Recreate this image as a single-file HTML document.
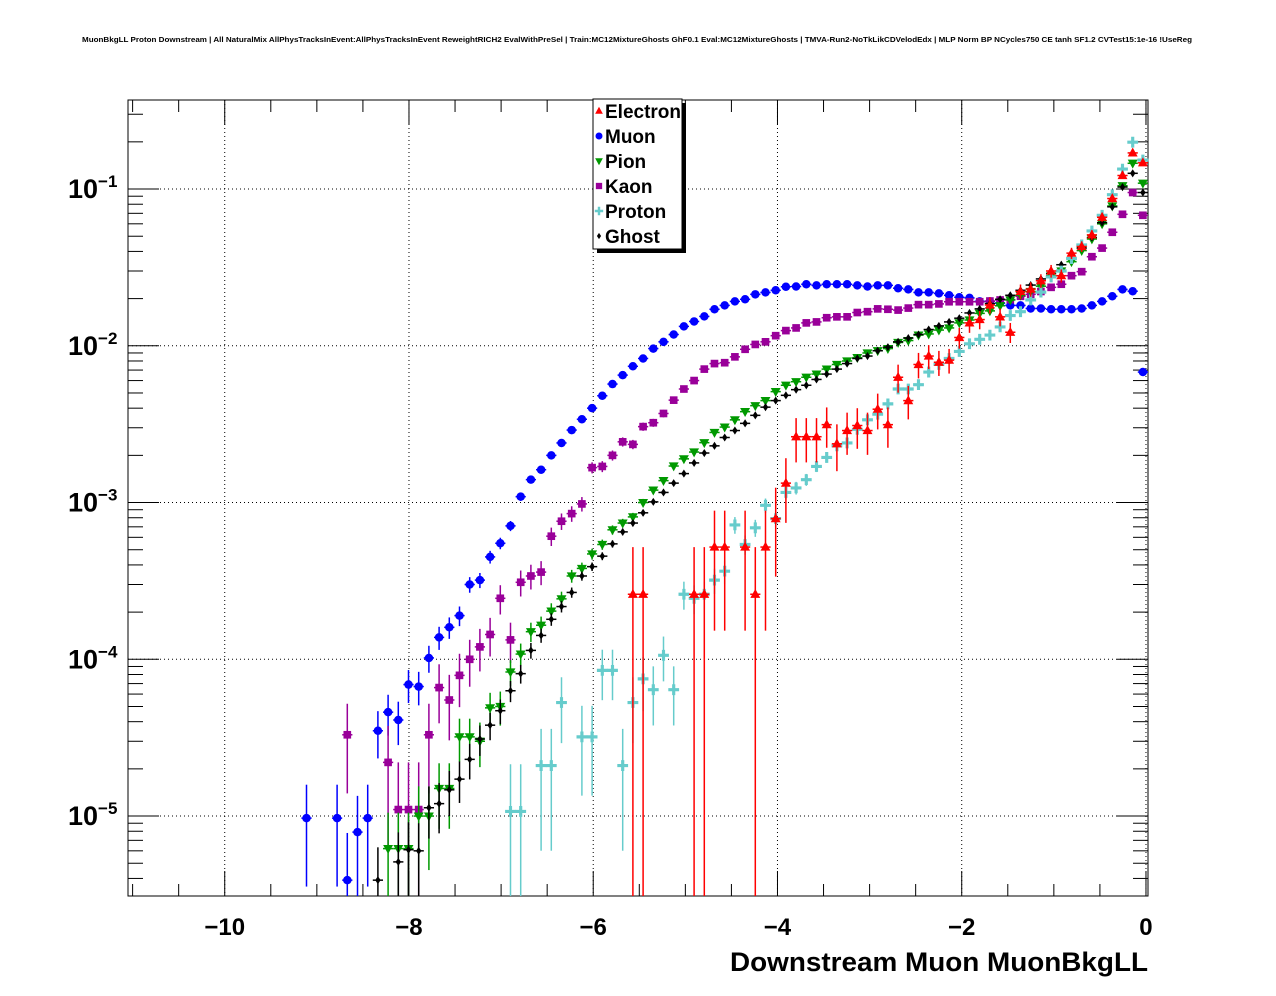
<!DOCTYPE html>
<html><head><meta charset="utf-8"><style>
html,body{margin:0;padding:0;background:#fff;}
svg{display:block;font-family:"Liberation Sans",Arial,sans-serif;}
</style></head><body>
<svg id="chart" width="1276" height="996" viewBox="0 0 1276 996">
<text x="637" y="42" text-anchor="middle" font-size="7" font-weight="bold" textLength="1110" lengthAdjust="spacingAndGlyphs">MuonBkgLL Proton Downstream | All NaturalMix AllPhysTracksInEvent:AllPhysTracksInEvent ReweightRICH2 EvalWithPreSel | Train:MC12MixtureGhosts GhF0.1 Eval:MC12MixtureGhosts | TMVA-Run2-NoTkLikCDVelodEdx | MLP Norm BP NCycles750 CE tanh SF1.2 CVTest15:1e-16 !UseReg</text>
<g id="grid"></g>
<g id="axes"></g>
<g id="series"></g>
<text x="1148" y="971" text-anchor="end" font-size="27" font-weight="bold" textLength="418" lengthAdjust="spacingAndGlyphs">Downstream Muon MuonBkgLL</text>
<g id="legend"></g>
</svg>
<script>
const xTicks = [-10, -8, -6, -4, -2, 0];
const xTickLabels = ["\u221210", "\u22128", "\u22126", "\u22124", "\u22122", "0"];
const yDecades = [-1, -2, -3, -4, -5];
const seriesNames = ["Electron", "Muon", "Pion", "Kaon", "Proton", "Ghost"];
const binLow = -11.05, binWidth = 0.11072;

const muonStart = 17;
const muonVals = [9.7e-6,null,null,9.7e-6,3.9e-6,7.9e-6,9.7e-6,3.5e-5,4.6e-5,4.1e-5,6.9e-5,6.7e-5,1.02e-4,1.38e-4,1.6e-4,1.9e-4,3.0e-4,3.2e-4,4.5e-4,5.5e-4,7.1e-4,1.09e-3,1.40e-3,1.62e-3,2.0e-3,2.4e-3,2.9e-3,3.4e-3,4.0e-3,4.8e-3,5.7e-3,6.5e-3,7.4e-3,8.3e-3,9.6e-3,1.06e-2,1.18e-2,1.33e-2,1.43e-2,1.54e-2,1.71e-2,1.81e-2,1.92e-2,1.98e-2,2.13e-2,2.19e-2,2.26e-2,2.38e-2,2.39e-2,2.47e-2,2.43e-2,2.47e-2,2.47e-2,2.47e-2,2.43e-2,2.39e-2,2.43e-2,2.43e-2,2.33e-2,2.29e-2,2.19e-2,2.19e-2,2.16e-2,2.10e-2,2.04e-2,2.02e-2,1.92e-2,1.92e-2,1.87e-2,1.81e-2,1.81e-2,1.73e-2,1.73e-2,1.71e-2,1.71e-2,1.71e-2,1.73e-2,1.81e-2,1.92e-2,2.07e-2,2.29e-2,2.23e-2,6.8e-3];
const kaonStart = 21;
const kaonVals = [3.3e-5,null,null,null,2.2e-5,1.1e-5,1.1e-5,1.1e-5,3.3e-5,6.6e-5,5.5e-5,7.9e-5,1.0e-4,1.2e-4,1.44e-4,2.45e-4,1.33e-4,3.1e-4,3.4e-4,3.6e-4,6.1e-4,7.6e-4,8.5e-4,9.8e-4,1.67e-3,1.7e-3,2.0e-3,2.44e-3,2.35e-3,3.05e-3,3.23e-3,3.7e-3,4.5e-3,5.3e-3,6.0e-3,7.1e-3,7.7e-3,7.8e-3,8.5e-3,9.5e-3,1.02e-2,1.06e-2,1.16e-2,1.25e-2,1.30e-2,1.40e-2,1.42e-2,1.51e-2,1.53e-2,1.53e-2,1.63e-2,1.65e-2,1.72e-2,1.71e-2,1.69e-2,1.74e-2,1.83e-2,1.83e-2,1.85e-2,1.91e-2,1.91e-2,1.91e-2,1.91e-2,1.93e-2,1.96e-2,1.97e-2,2.07e-2,2.13e-2,2.22e-2,2.36e-2,2.47e-2,2.8e-2,2.97e-2,3.7e-2,4.2e-2,5.3e-2,6.9e-2,9.5e-2,6.8e-2];
const pionStart = 25;
const pionVals = [6.2e-6,6.2e-6,6.2e-6,1.0e-5,1.0e-5,1.5e-5,1.5e-5,3.2e-5,3.2e-5,3.0e-5,4.9e-5,5.0e-5,8.3e-5,1.08e-4,1.5e-4,1.65e-4,2.03e-4,2.43e-4,3.4e-4,3.8e-4,4.7e-4,5.4e-4,6.7e-4,7.4e-4,8.1e-4,1.0e-3,1.2e-3,1.38e-3,1.71e-3,1.9e-3,2.1e-3,2.41e-3,2.8e-3,3.03e-3,3.37e-3,3.8e-3,4.15e-3,4.47e-3,5.1e-3,5.6e-3,5.9e-3,6.3e-3,6.6e-3,7.1e-3,7.6e-3,8.0e-3,8.4e-3,9.0e-3,9.3e-3,9.6e-3,1.05e-2,1.08e-2,1.17e-2,1.19e-2,1.26e-2,1.30e-2,1.4e-2,1.46e-2,1.61e-2,1.67e-2,1.80e-2,1.96e-2,2.1e-2,2.22e-2,2.4e-2,2.8e-2,3.0e-2,3.44e-2,4.05e-2,4.8e-2,6.0e-2,7.8e-2,0.105,0.146,0.109];
const ghostStart = 24;
const ghostVals = [3.9e-6,null,5.1e-6,6.1e-6,6.0e-6,1.13e-5,1.2e-5,1.47e-5,1.72e-5,2.3e-5,3.1e-5,3.8e-5,4.7e-5,6.3e-5,8.1e-5,1.14e-4,1.42e-4,1.8e-4,2.17e-4,2.67e-4,3.4e-4,3.9e-4,4.55e-4,5.45e-4,6.5e-4,7.4e-4,8.6e-4,1.01e-3,1.16e-3,1.33e-3,1.53e-3,1.79e-3,2.07e-3,2.3e-3,2.6e-3,2.88e-3,3.2e-3,3.6e-3,4.06e-3,4.47e-3,4.83e-3,5.25e-3,5.6e-3,6.1e-3,6.6e-3,7.1e-3,7.7e-3,8.3e-3,8.6e-3,9.3e-3,9.8e-3,1.06e-2,1.12e-2,1.18e-2,1.27e-2,1.34e-2,1.42e-2,1.50e-2,1.62e-2,1.72e-2,1.86e-2,1.98e-2,2.1e-2,2.26e-2,2.44e-2,2.67e-2,2.88e-2,3.29e-2,3.6e-2,4.2e-2,4.9e-2,6.1e-2,7.7e-2,0.103,0.126,9.5e-2];
const electronStart = 49;
const electronVals = [2.6e-4,2.6e-4,null,null,null,null,2.6e-4,2.6e-4,5.2e-4,5.2e-4,null,5.2e-4,2.6e-4,5.2e-4,7.9e-4,1.33e-3,2.63e-3,2.63e-3,2.63e-3,3.14e-3,2.37e-3,2.88e-3,3.1e-3,2.88e-3,3.94e-3,3.14e-3,6.3e-3,4.47e-3,7.6e-3,8.6e-3,7.85e-3,8.1e-3,1.13e-2,1.40e-2,1.47e-2,1.82e-2,1.53e-2,1.22e-2,2.22e-2,2.3e-2,2.6e-2,3.0e-2,2.8e-2,3.9e-2,4.3e-2,5.1e-2,6.6e-2,8.7e-2,0.122,0.17,0.147];
const protonStart = 37;
const protonVals = [1.07e-5,1.07e-5,null,2.1e-5,2.1e-5,5.3e-5,null,3.2e-5,3.2e-5,8.5e-5,8.5e-5,2.1e-5,5.3e-5,7.5e-5,6.4e-5,1.06e-4,6.4e-5,2.6e-4,2.45e-4,2.6e-4,3.2e-4,3.65e-4,7.2e-4,5.4e-4,6.9e-4,9.6e-4,7.9e-4,1.16e-3,1.24e-3,1.40e-3,1.7e-3,1.94e-3,2.3e-3,2.4e-3,2.93e-3,3.37e-3,3.66e-3,4.26e-3,5.3e-3,5.3e-3,5.65e-3,6.8e-3,7.6e-3,8.3e-3,9.2e-3,1.03e-2,1.10e-2,1.17e-2,1.32e-2,1.56e-2,1.65e-2,1.96e-2,2.2e-2,2.75e-2,3.0e-2,3.6e-2,4.4e-2,5.4e-2,6.8e-2,9.2e-2,0.134,0.199,0.153];
// single-entry weight per species (for Poisson-like error bars)
const unitWeights = [2.6e-4, 3.9e-6, 3.0e-6, 1.1e-5, 1.07e-5, 1.5e-6];

const NS = "http://www.w3.org/2000/svg";
const L = 128, R = 1148, T = 100, B = 896;
const xMin = -11.05, xMax = 0.022;
const yLogMin = -5.51, yLogMax = -0.432;
function xs(v){ return L + (v - xMin) / (xMax - xMin) * (R - L); }
function ys(v){ return B - (Math.log10(v) - yLogMin) / (yLogMax - yLogMin) * (B - T); }
function mk(tag, attrs, parent){ const e = document.createElementNS(NS, tag); for (const k in attrs) e.setAttribute(k, attrs[k]); parent.appendChild(e); return e; }

const grid = document.getElementById('grid');
const axes = document.getElementById('axes');
const series = document.getElementById('series');
const legend = document.getElementById('legend');

xTicks.forEach(t => {
  const x = xs(t);
  if (x < R - 2) { const g = mk('line', {x1:x, y1:T, x2:x, y2:B, stroke:'#000', 'stroke-width':1, 'stroke-dasharray':'1,3'}, grid);
  
   }
});
yDecades.forEach(d => {
  const y = ys(Math.pow(10, d));
  const g = mk('line', {x1:L, y1:y, x2:R, y2:y, stroke:'#000', 'stroke-width':1, 'stroke-dasharray':'1,3'}, grid);
  
  
});

const fr = mk('rect', {x:L, y:T, width:R-L, height:B-T, fill:'none', stroke:'#000', 'stroke-width':1}, axes);



for (let v = -11; v <= 0.001; v += 0.5) {
  const x = xs(v);
  const major = Math.abs(v - Math.round(v / 2) * 2) < 1e-6;
  const len = major ? 25 : 12;
  mk('line', {x1:x, y1:B, x2:x, y2:B-len, stroke:'#000', 'stroke-width':1}, axes);
  mk('line', {x1:x, y1:T, x2:x, y2:T+len, stroke:'#000', 'stroke-width':1}, axes);
}
xTicks.forEach((t, i) => {
  const tx = mk('text', {x:xs(t), y:935, 'text-anchor':'middle', 'font-size':24, 'font-weight':'bold'}, axes);
  tx.textContent = xTickLabels[i];
  
  
});
for (let d = -6; d <= 0; d++) {
  for (let m = 1; m <= 9; m++) {
    const v = m * Math.pow(10, d);
    const lv = Math.log10(v);
    if (lv < yLogMin || lv > yLogMax) continue;
    const y = ys(v);
    const len = m === 1 ? 31 : 15;
    mk('line', {x1:L, y1:y, x2:L+len, y2:y, stroke:'#000', 'stroke-width':1}, axes);
    mk('line', {x1:R, y1:y, x2:R-len, y2:y, stroke:'#000', 'stroke-width':1}, axes);
  }
}
yDecades.forEach(d => {
  const y = ys(Math.pow(10, d));
  const tx = mk('text', {x:68, y:y+9, 'font-size':27, 'font-weight':'bold'}, axes);
  
  
  const a = document.createElementNS(NS, 'tspan'); a.textContent = '10'; tx.appendChild(a);
  const b = document.createElementNS(NS, 'tspan'); b.setAttribute('dy', -11); b.setAttribute('font-size', 17); b.textContent = '\u2212' + (-d); tx.appendChild(b);
});

function marker(kind, x, y, s, color, parent){
  let e;
  if (kind === 'tri-up') e = mk('polygon', {points:`${x},${y-s*0.6} ${x-s*0.55},${y+s*0.4} ${x+s*0.55},${y+s*0.4}`, fill:color}, parent);
  else if (kind === 'circle') e = mk('circle', {cx:x, cy:y, r:s*0.5, fill:color}, parent);
  else if (kind === 'tri-down') e = mk('polygon', {points:`${x},${y+s*0.6} ${x-s*0.55},${y-s*0.4} ${x+s*0.55},${y-s*0.4}`, fill:color}, parent);
  else if (kind === 'square') e = mk('rect', {x:x-s*0.45, y:y-s*0.45, width:s*0.9, height:s*0.9, fill:color}, parent);
  else if (kind === 'cross') { const w = s*0.35, h = s*0.6;
    e = mk('path', {d:`M${x-w/2},${y-h}h${w}v${h-w/2}h${h-w/2}v${w}h${-(h-w/2)}v${h-w/2}h${-w}v${-(h-w/2)}h${-(h-w/2)}v${-w}h${h-w/2}z`, fill:color}, parent); }
  else e = mk('polygon', {points:`${x},${y-s*0.45} ${x+s*0.3},${y} ${x},${y+s*0.45} ${x-s*0.3},${y}`, fill:color}, parent);
  return e;
}

const defs = [
  {start:electronStart, vals:electronVals, color:'#ff0000', kind:'tri-up', size:9},
  {start:muonStart, vals:muonVals, color:'#0000ff', kind:'circle', size:8.5},
  {start:pionStart, vals:pionVals, color:'#009900', kind:'tri-down', size:9},
  {start:kaonStart, vals:kaonVals, color:'#990099', kind:'square', size:8.5},
  {start:protonStart, vals:protonVals, color:'#66cccc', kind:'cross', size:9},
  {start:ghostStart, vals:ghostVals, color:'#000000', kind:'diamond', size:9}
];
const drawOrder = [1, 3, 2, 5, 4, 0];
drawOrder.forEach(si => {
  const s = defs[si];
  const g = mk('g', {}, series);
  
  
  s.vals.forEach((v, k) => {
    if (v === null) return;
    const bin = s.start + k;
    const c = binLow + binWidth * (bin + 0.5);
    const x = xs(c);
    const err = Math.sqrt(v * unitWeights[si]);
    const yT = Math.max(T, ys(v + err));
    const lo = v - err;
    const yB = lo > Math.pow(10, yLogMin) ? ys(lo) : B;
    const y = ys(v);
    if (y > B || y < T) return;
    mk('line', {x1:x, y1:yT, x2:x, y2:Math.min(B, yB), stroke:s.color, 'stroke-width':1.5}, g);
    mk('line', {x1:xs(c - binWidth/2), y1:y, x2:xs(c + binWidth/2), y2:y, stroke:s.color, 'stroke-width':1.5}, g);
    const m = marker(s.kind, x, y, s.size, s.color, g);
    
    
  });
});

mk('rect', {x:597, y:103, width:89, height:150, fill:'#000'}, legend);
const lb = mk('rect', {x:593, y:99, width:89, height:150, fill:'#fff', stroke:'#000', 'stroke-width':1}, legend);


seriesNames.forEach((n, i) => {
  const y = 111 + 25 * i;
  const g = mk('g', {}, legend);
  
  
  marker(defs[i].kind, 599, y, 7, defs[i].color, g);
  const t = mk('text', {x:605, y:y+7, 'font-size':19, 'font-weight':'bold'}, g);
  t.textContent = n;
});
</script>
</body></html>
